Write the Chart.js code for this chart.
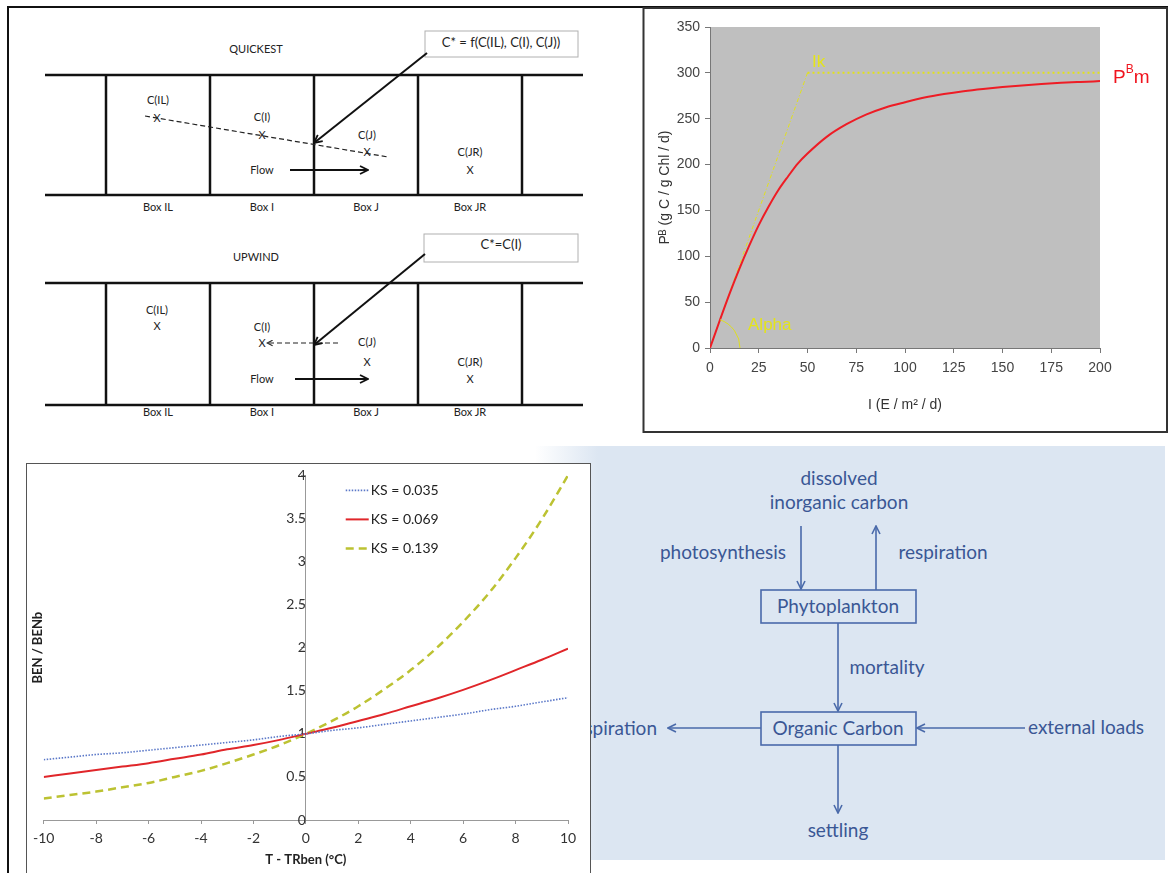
<!DOCTYPE html>
<html><head><meta charset="utf-8">
<script src="https://cdn.jsdelivr.net/npm/chart.js@4.4.1/dist/chart.umd.min.js"></script>
<style>
html,body{margin:0;padding:0;background:#fff;}
#page{position:relative;width:1173px;height:873px;overflow:hidden;background:#fff;}
#art{position:absolute;left:0;top:0;}
#pi{position:absolute;left:645px;top:9px;}
#benBox{position:absolute;left:26px;top:463px;width:563px;height:430px;border:1px solid #555;background:#fff;}
#ben{position:absolute;left:0;top:0;}
.s{font-family:Lato,"Open Sans",sans-serif;font-size:11px;fill:#222;}
.b{font-family:Lato,"Open Sans",sans-serif;font-size:13px;fill:#222;}
.d{font-family:Lato,"Open Sans",sans-serif;font-size:19px;fill:#3a5795;}
</style></head>
<body><div id="page">
<svg id="art" width="1173" height="873" viewBox="0 0 1173 873">
<defs>
<marker id="ah" viewBox="0 0 10 10" refX="9" refY="5" markerUnits="userSpaceOnUse" markerWidth="10" markerHeight="10" orient="auto-start-reverse"><path d="M1,1 L9,5 L1,9" fill="none" stroke="#111" stroke-width="1.8"/></marker>
<marker id="ahs" viewBox="0 0 10 10" refX="9" refY="5" markerUnits="userSpaceOnUse" markerWidth="7" markerHeight="7" orient="auto-start-reverse"><path d="M1,1 L9,5 L1,9" fill="none" stroke="#222" stroke-width="1.5"/></marker>
<marker id="ab" viewBox="0 0 10 10" refX="9" refY="5" markerUnits="userSpaceOnUse" markerWidth="10" markerHeight="10" orient="auto-start-reverse"><path d="M1,1 L9,5 L1,9" fill="none" stroke="#4a6aaa" stroke-width="1.6"/></marker>
<linearGradient id="bg" x1="0" y1="0" x2="1" y2="0"><stop offset="0" stop-color="#dce6f2" stop-opacity="0"/><stop offset="0.1" stop-color="#dce6f2"/><stop offset="1" stop-color="#dce6f2"/></linearGradient>
</defs>
<!-- outer borders -->
<line x1="8" y1="7" x2="8" y2="873" stroke="#111" stroke-width="2"/>
<line x1="7" y1="7" x2="1168" y2="7" stroke="#111" stroke-width="2"/>
<rect x="643.5" y="8" width="523.5" height="424" fill="#fff" stroke="#333" stroke-width="2"/>
<!-- blue diagram background -->
<rect x="535" y="446" width="630" height="414" fill="url(#bg)"/>

<!-- QUICKEST -->
<text class="s" x="256" y="53" text-anchor="middle">QUICKEST</text>
<rect x="425" y="31" width="153" height="26" fill="#fff" stroke="#b0b0b0" stroke-width="1"/>
<text class="b" x="501" y="47" text-anchor="middle">C* = f(C(IL), C(I), C(J))</text>
<g stroke="#111" stroke-width="2.5">
<line x1="45" y1="75" x2="583" y2="75"/><line x1="45" y1="195" x2="583" y2="195"/>
<line x1="106" y1="75" x2="106" y2="195"/><line x1="210" y1="75" x2="210" y2="195"/>
<line x1="314" y1="75" x2="314" y2="195"/><line x1="418" y1="75" x2="418" y2="195"/>
<line x1="522" y1="75" x2="522" y2="195"/>
</g>
<line x1="145" y1="116" x2="388" y2="157" stroke="#222" stroke-width="1.2" stroke-dasharray="5,3"/>
<line x1="427" y1="53" x2="314" y2="143" stroke="#111" stroke-width="2" marker-end="url(#ah)"/>
<line x1="290" y1="170" x2="368" y2="170" stroke="#111" stroke-width="2" marker-end="url(#ah)"/>
<text class="s" x="158" y="104" text-anchor="middle">C(IL)</text>
<text class="s" x="157" y="122" text-anchor="middle">X</text>
<text class="s" x="262" y="121" text-anchor="middle">C(I)</text>
<text class="s" x="262" y="139" text-anchor="middle">X</text>
<text class="s" x="367" y="139" text-anchor="middle">C(J)</text>
<text class="s" x="367" y="156" text-anchor="middle">X</text>
<text class="s" x="470" y="156" text-anchor="middle">C(JR)</text>
<text class="s" x="470" y="174" text-anchor="middle">X</text>
<text class="s" x="262" y="174" text-anchor="middle">Flow</text>
<text class="s" x="158" y="211" text-anchor="middle">Box IL</text>
<text class="s" x="262" y="211" text-anchor="middle">Box I</text>
<text class="s" x="366" y="211" text-anchor="middle">Box J</text>
<text class="s" x="470" y="211" text-anchor="middle">Box JR</text>

<!-- UPWIND -->
<text class="s" x="256" y="261" text-anchor="middle">UPWIND</text>
<rect x="424" y="234" width="154" height="28" fill="#fff" stroke="#b0b0b0" stroke-width="1"/>
<text class="b" x="501" y="249" text-anchor="middle">C*=C(I)</text>
<g stroke="#111" stroke-width="2.5">
<line x1="45" y1="283" x2="583" y2="283"/><line x1="45" y1="405" x2="583" y2="405"/>
<line x1="106" y1="283" x2="106" y2="405"/><line x1="210" y1="283" x2="210" y2="405"/>
<line x1="314" y1="283" x2="314" y2="405"/><line x1="418" y1="283" x2="418" y2="405"/>
<line x1="522" y1="283" x2="522" y2="405"/>
</g>
<line x1="338" y1="343" x2="267" y2="343" stroke="#222" stroke-width="1.2" stroke-dasharray="5,3" marker-end="url(#ahs)"/>
<line x1="425" y1="254" x2="314" y2="345" stroke="#111" stroke-width="2" marker-end="url(#ah)"/>
<line x1="295" y1="379" x2="368" y2="379" stroke="#111" stroke-width="2" marker-end="url(#ah)"/>
<text class="s" x="157" y="314" text-anchor="middle">C(IL)</text>
<text class="s" x="157" y="330" text-anchor="middle">X</text>
<text class="s" x="262" y="331" text-anchor="middle">C(I)</text>
<text class="s" x="262" y="347" text-anchor="middle">X</text>
<text class="s" x="367" y="346" text-anchor="middle">C(J)</text>
<text class="s" x="367" y="366" text-anchor="middle">X</text>
<text class="s" x="470" y="366" text-anchor="middle">C(JR)</text>
<text class="s" x="470" y="383" text-anchor="middle">X</text>
<text class="s" x="262" y="383" text-anchor="middle">Flow</text>
<text class="s" x="158" y="416" text-anchor="middle">Box IL</text>
<text class="s" x="262" y="416" text-anchor="middle">Box I</text>
<text class="s" x="366" y="416" text-anchor="middle">Box J</text>
<text class="s" x="470" y="416" text-anchor="middle">Box JR</text>

<!-- carbon diagram -->
<g stroke="#4a6aaa" stroke-width="1.6" fill="none">
<line x1="801" y1="526" x2="801" y2="589" marker-end="url(#ab)"/>
<line x1="876" y1="590" x2="876" y2="526" marker-end="url(#ab)"/>
<rect x="761" y="590" width="155" height="33"/>
<line x1="838" y1="623" x2="838" y2="711" marker-end="url(#ab)"/>
<rect x="761" y="712" width="155" height="33"/>
<line x1="761" y1="728" x2="668" y2="728" marker-end="url(#ab)"/>
<line x1="1025" y1="728" x2="917" y2="728" marker-end="url(#ab)"/>
<line x1="838" y1="745" x2="838" y2="813" marker-end="url(#ab)"/>
</g>
<text class="d" x="839" y="485" text-anchor="middle">dissolved</text>
<text class="d" x="839" y="509" text-anchor="middle">inorganic carbon</text>
<text class="d" x="723" y="559" text-anchor="middle">photosynthesis</text>
<text class="d" x="943" y="559" text-anchor="middle">respiration</text>
<text class="d" x="838" y="613" text-anchor="middle">Phytoplankton</text>
<text class="d" x="887" y="674" text-anchor="middle">mortality</text>
<text class="d" x="838" y="735" text-anchor="middle">Organic Carbon</text>
<text class="d" x="657" y="735" text-anchor="end">respiration</text>
<text class="d" x="1086" y="734" text-anchor="middle">external loads</text>
<text class="d" x="838" y="837" text-anchor="middle">settling</text>
</svg>
<canvas id="pi" width="521" height="422"></canvas>
<div id="benBox"><canvas id="ben" width="563" height="409"></canvas></div>
</div>
<script>
// ---- P-I curve data ----
const I_VALUES  = [0,5,10,15,20,25,30,35,40,45,50,60,70,80,90,100,110,120,130,140,150,160,170,180,190,200];
const PB_VALUES = [0,30,59,86,111,134,154,172,187,201,212,230.5,244,254.5,262.3,268,273.1,276.9,280,282.5,284.6,286.3,287.8,289.1,290.1,291];
const ALPHA_LINE_X = [0,50];
const ALPHA_LINE_Y = [0,300];
const PM_LINE_X = [50,200];
const PM_LINE_Y = [300,300];
const PI_X_TICKS = [0,200,25];
const PI_Y_TICKS = [0,350,50];

// ---- BEN / BENb data ----
const T_VALUES = [-10,-9,-8,-7,-6,-5,-4,-3,-2,-1,0,1,2,3,4,5,6,7,8,9,10];
const KS_LABELS = ['KS = 0.035','KS = 0.069','KS = 0.139'];
const KS_035 = [0.70,0.73,0.76,0.78,0.81,0.84,0.87,0.90,0.93,0.97,1.00,1.04,1.07,1.11,1.15,1.19,1.23,1.28,1.32,1.37,1.42];
const KS_069 = [0.50,0.54,0.58,0.62,0.66,0.71,0.76,0.82,0.87,0.93,1.00,1.07,1.15,1.23,1.32,1.41,1.51,1.62,1.74,1.86,1.99];
const KS_139 = [0.25,0.29,0.33,0.38,0.43,0.50,0.57,0.66,0.76,0.87,1.00,1.15,1.32,1.52,1.74,2.00,2.30,2.64,3.04,3.49,4.00];
const BEN_X_TICKS = [-10,10,2];
const BEN_Y_TICKS = [0,4,0.5];

const pts = (xs, ys) => xs.map((x, i) => ({x, y: ys[i]}));

// ---------- P-I chart ----------
const grayArea = {
  id: 'grayArea',
  beforeDraw(chart) {
    const {ctx, chartArea: a} = chart;
    ctx.save(); ctx.fillStyle = '#bfbfbf';
    ctx.fillRect(a.left, a.top, a.right - a.left, a.bottom - a.top);
    ctx.restore();
  }
};
const piNotes = {
  id: 'piNotes',
  afterDatasetsDraw(chart) {
    const {ctx, chartArea: a, scales: {x, y}} = chart;
    ctx.save();
    const ox = x.getPixelForValue(0), oy = y.getPixelForValue(0);
    const ang = Math.atan2(y.getPixelForValue(ALPHA_LINE_Y[1]) - oy, x.getPixelForValue(ALPHA_LINE_X[1]) - ox);
    ctx.strokeStyle = '#dede20'; ctx.lineWidth = 1;
    ctx.beginPath(); ctx.arc(ox, oy, 30, ang, 0); ctx.stroke();
    ctx.fillStyle = '#e4e41a';
    ctx.font = '17px "Liberation Sans", Arial, sans-serif';
    ctx.textBaseline = 'alphabetic';
    ctx.fillText('Ik', x.getPixelForValue(52.3), y.getPixelForValue(306));
    ctx.fillText('Alpha', x.getPixelForValue(19.5), y.getPixelForValue(19.6));
    ctx.fillStyle = '#f0141e';
    let px = a.right + 13, py = y.getPixelForValue(290) + 1;
    ctx.font = '19px "Liberation Sans", Arial, sans-serif';
    ctx.fillText('P', px, py); px += ctx.measureText('P').width;
    ctx.font = '12px "Liberation Sans", Arial, sans-serif';
    ctx.fillText('B', px, py - 10); px += ctx.measureText('B').width;
    ctx.font = '19px "Liberation Sans", Arial, sans-serif';
    ctx.fillText('m', px, py);
    ctx.restore();
  }
};
const piFont = {family: '"Liberation Sans", Arial, sans-serif', size: 14};
new Chart(document.getElementById('pi'), {
  type: 'line',
  data: { datasets: [
    {label: 'PB', data: pts(I_VALUES, PB_VALUES), borderColor: '#ee1c25', borderWidth: 2, pointRadius: 0, cubicInterpolationMode: 'monotone', order: 0},
    {label: 'alpha', data: pts(ALPHA_LINE_X, ALPHA_LINE_Y), borderColor: '#e2e21a', borderWidth: 1, borderDash: [4,2,1,2], pointRadius: 0, order: 1},
    {label: 'Pm', data: pts(PM_LINE_X, PM_LINE_Y), borderColor: '#e2e21a', borderWidth: 2, borderDash: [2,3], pointRadius: 0, order: 2}
  ]},
  options: {
    responsive: false, animation: false,
    layout: {padding: {left: 0, right: 66, top: 18, bottom: 0}},
    plugins: {legend: {display: false}, tooltip: {enabled: false}},
    scales: {
      x: {type: 'linear', min: PI_X_TICKS[0], max: PI_X_TICKS[1],
        ticks: {stepSize: PI_X_TICKS[2], font: piFont, color: '#444', padding: 7, maxRotation: 0},
        grid: {drawOnChartArea: false, drawTicks: true, tickLength: 5, color: '#777'},
        border: {color: '#777'},
        title: {display: true, text: 'I (E / m\u00B2 / d)', font: piFont, color: '#333', padding: {top: 0, bottom: 17}},
        afterFit(s) { s.height = 83; }},
      y: {type: 'linear', min: PI_Y_TICKS[0], max: PI_Y_TICKS[1],
        ticks: {stepSize: PI_Y_TICKS[2], font: piFont, color: '#444', padding: 5},
        grid: {drawOnChartArea: false, drawTicks: true, tickLength: 5, color: '#777'},
        border: {color: '#777'},
        title: {display: true, text: 'P\u1D2E (g C / g Chl / d)', font: piFont, color: '#333', padding: {top: 12, bottom: 0}},
        afterFit(s) { s.width = 65; }}
    }
  },
  plugins: [grayArea, piNotes]
});

// ---------- BEN chart ----------
const benLegend = {
  id: 'benLegend',
  afterDraw(chart) {
    const {ctx, chartArea: a} = chart;
    ctx.save();
    ctx.font = '14px Lato, "Open Sans", sans-serif';
    ctx.textBaseline = 'middle';
    chart.data.datasets.forEach((ds, i) => {
      const yy = a.top + 15 + i * 29, x0 = a.left + 302;
      ctx.strokeStyle = ds.borderColor; ctx.lineWidth = ds.borderWidth;
      ctx.setLineDash(ds.borderDash || []);
      ctx.beginPath(); ctx.moveTo(x0, yy); ctx.lineTo(x0 + 23, yy); ctx.stroke();
      ctx.setLineDash([]);
      ctx.fillStyle = '#222';
      ctx.fillText(ds.label, x0 + 25, yy);
    });
    ctx.translate(11, (a.top + a.bottom) / 2);
    ctx.rotate(-Math.PI / 2);
    ctx.font = 'bold 13px Lato, "Open Sans", sans-serif';
    ctx.textAlign = 'center';
    ctx.fillStyle = '#222';
    ctx.fillText('BEN / BENb', 0, 0);
    ctx.restore();
  }
};
const benFont = {family: 'Lato, "Open Sans", sans-serif', size: 14};
new Chart(document.getElementById('ben'), {
  type: 'line',
  data: { datasets: [
    {label: KS_LABELS[0], data: pts(T_VALUES, KS_035), borderColor: '#5b78c8', borderWidth: 1.6, borderDash: [1.5,1.5], pointRadius: 0, cubicInterpolationMode: 'monotone'},
    {label: KS_LABELS[1], data: pts(T_VALUES, KS_069), borderColor: '#e0262a', borderWidth: 2, pointRadius: 0, cubicInterpolationMode: 'monotone'},
    {label: KS_LABELS[2], data: pts(T_VALUES, KS_139), borderColor: '#bcc232', borderWidth: 2.5, borderDash: [8,5], pointRadius: 0, cubicInterpolationMode: 'monotone'}
  ]},
  options: {
    responsive: false, animation: false,
    layout: {padding: {left: 14, right: 22, top: 10, bottom: 0}},
    plugins: {legend: {display: false}, tooltip: {enabled: false}},
    scales: {
      x: {type: 'linear', min: BEN_X_TICKS[0], max: BEN_X_TICKS[1],
        ticks: {stepSize: BEN_X_TICKS[2], font: benFont, color: '#333', padding: 6, maxRotation: 0},
        grid: {drawOnChartArea: false, drawTicks: true, tickLength: 4, color: '#999'},
        border: {color: '#999'},
        title: {display: true, text: 'T - TRben (\u00B0C)', font: {family: 'Lato, "Open Sans", sans-serif', size: 13, weight: 'bold'}, color: '#222', padding: {top: 0, bottom: 5}},
        afterFit(s) { s.height = 53; }},
      y: {type: 'linear', min: BEN_Y_TICKS[0], max: BEN_Y_TICKS[1], position: {x: 0},
        ticks: {stepSize: BEN_Y_TICKS[2], font: benFont, color: '#333', padding: 3, callback: v => String(v)},
        grid: {drawOnChartArea: false, drawTicks: true, tickLength: 4, color: '#999'},
        border: {color: '#999'}}
    }
  },
  plugins: [benLegend]
});
</script>
</body></html>
